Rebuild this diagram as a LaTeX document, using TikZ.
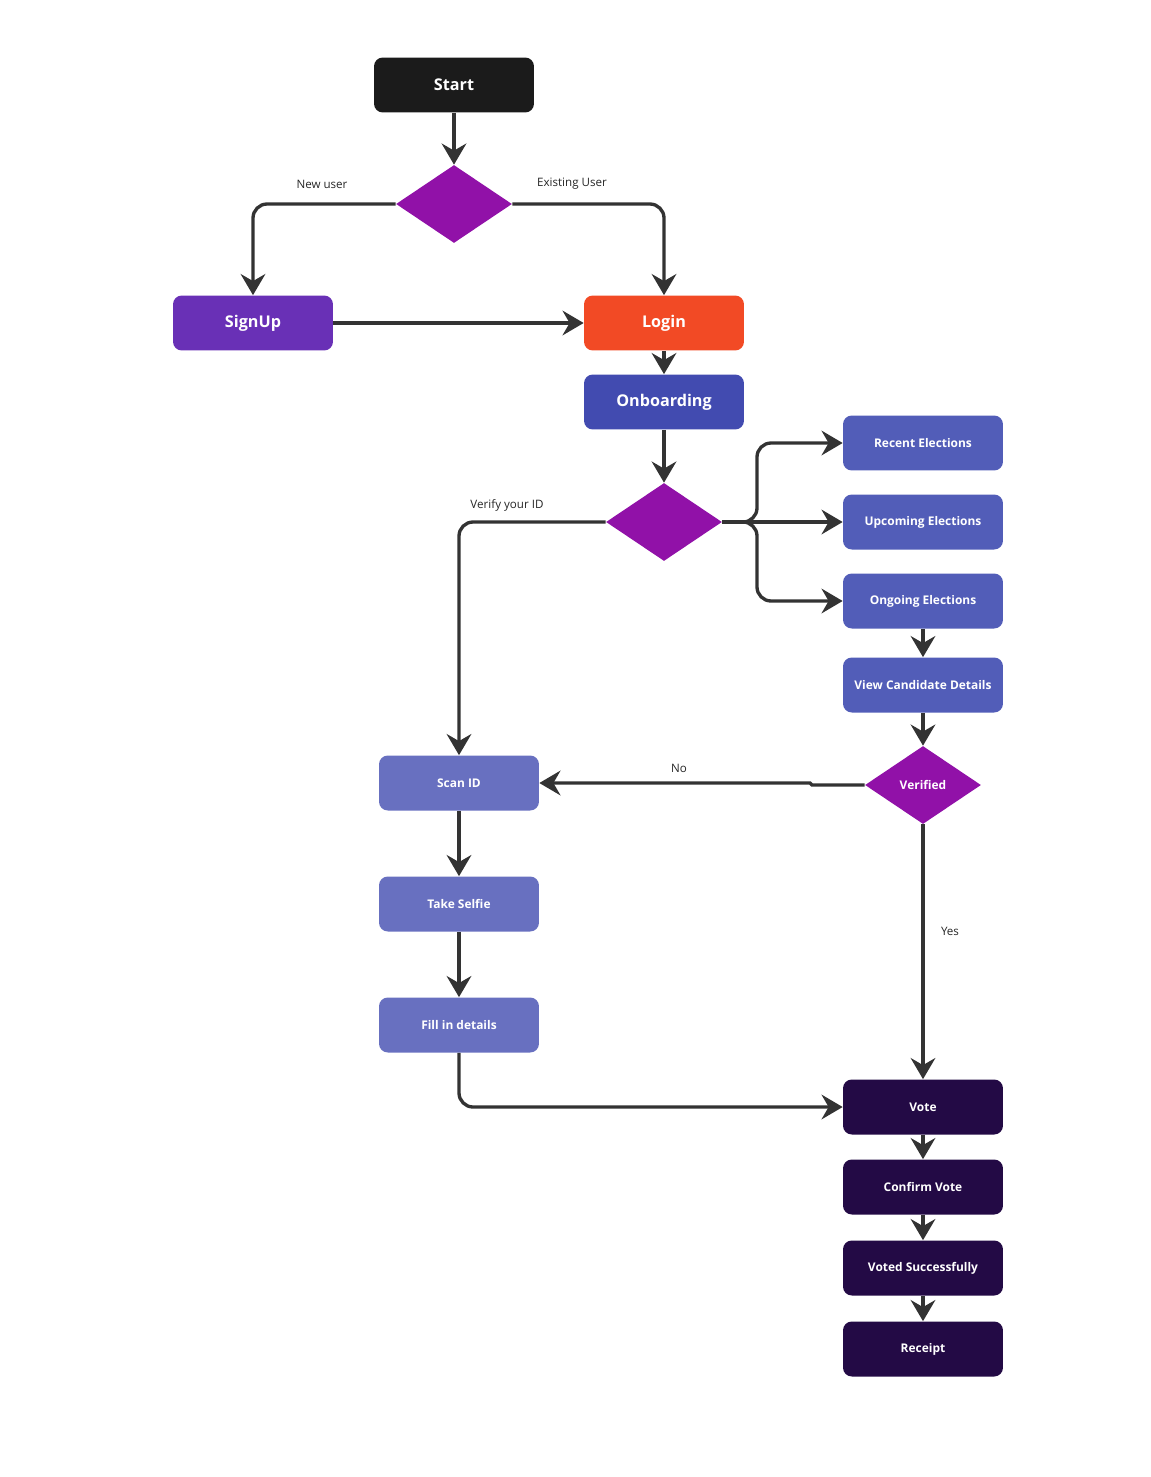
\documentclass[tikz,border=0pt]{standalone}
\usepackage{fontspec}
\setmainfont{Open Sans}
\usetikzlibrary{shapes.geometric,arrows.meta}
\definecolor{cStart}{HTML}{1B1B1B}
\definecolor{cDia}{HTML}{9111A8}
\definecolor{cSign}{HTML}{6930B6}
\definecolor{cLogin}{HTML}{F24A25}
\definecolor{cOnb}{HTML}{424BB0}
\definecolor{cElec}{HTML}{525DB8}
\definecolor{cScan}{HTML}{6870C0}
\definecolor{cVote}{HTML}{230A45}
\definecolor{cLine}{HTML}{333333}
\tikzset{
  box/.style={rectangle, rounded corners=5pt, minimum width=3.2cm, minimum height=1.1cm, inner sep=0pt, text=white, font=\bfseries\fontsize{6.8}{8}\selectfont},
  bigbox/.style={box, font=\bfseries\fontsize{9.2}{11}\selectfont},
  dia/.style={diamond, fill=cDia, draw=none, minimum width=2.32cm, minimum height=1.56cm, inner sep=0pt, text=white, font=\bfseries\fontsize{6.8}{8}\selectfont},
  conn/.style={draw=cLine, line width=1.9pt, rounded corners=8pt, -{Stealth[length=12pt,width=14pt,inset=4pt]}},
  lbl/.style={font=\fontsize{6.6}{8}\selectfont, text=black!85}
}
\begin{document}
\begin{tikzpicture}[x=0.02cm,y=-0.02cm]
\useasboundingbox (0,0) rectangle (1151,1477);
% nodes
\node[bigbox, fill=cStart] (start) at (454,85) {Start};
\node[dia] (d1) at (454,204) {};
\node[bigbox, fill=cSign] (signup) at (253,323) {SignUp};
\node[bigbox, fill=cLogin] (login) at (664,323) {Login};
\node[bigbox, fill=cOnb] (onb) at (664,402) {Onboarding};
\node[dia] (d2) at (664,522) {};
\node[box, fill=cElec] (recent) at (923,443) {Recent Elections};
\node[box, fill=cElec] (upcoming) at (923,522) {Upcoming Elections};
\node[box, fill=cElec] (ongoing) at (923,601) {Ongoing Elections};
\node[box, fill=cElec] (view) at (923,685) {View Candidate Details};
\node[dia] (ver) at (923,785) {Verified};
\node[box, fill=cScan] (scan) at (459,783) {Scan ID};
\node[box, fill=cScan] (selfie) at (459,904) {Take Selfie};
\node[box, fill=cScan] (fill) at (459,1025) {Fill in details};
\node[box, fill=cVote] (vote) at (923,1107) {Vote};
\node[box, fill=cVote] (confirm) at (923,1187) {Confirm Vote};
\node[box, fill=cVote] (voted) at (923,1268) {Voted Successfully};
\node[box, fill=cVote] (receipt) at (923,1349) {Receipt};
% labels
\node[lbl] (lnew) at (322,184) {New user};
\node[lbl] (lexist) at (572,184) {Existing User};
\node[lbl] (lverify) at (507,505) {Verify your ID};
\node[lbl] (lno) at (679,768) {No};
\node[lbl] (lyes) at (950,931) {Yes};
% connectors
\draw[conn] (start) -- (d1);
\draw[conn] (d1.west) -| (signup.north);
\draw[conn] (d1.east) -| (login.north);
\draw[conn] (signup) -- (login);
\draw[conn] (login) -- (onb);
\draw[conn] (onb) -- (d2);
\draw[conn] (d2.west) -| (scan.north);
\coordinate (br) at (757,522);
\draw[conn] (d2.east) -- (br) |- (recent.west);
\draw[conn] (d2.east) -- (upcoming.west);
\draw[conn] (d2.east) -- (br) |- (ongoing.west);
\draw[conn] (ongoing) -- (view);
\draw[conn] (view) -- (ver);
\coordinate (jog1) at (812,785);
\coordinate (jog2) at (810,783);
\draw[conn, rounded corners=0pt] (ver.west) -- (jog1) -- (jog2) -- (scan.east);
\draw[conn] (ver.south) -- (vote.north);
\draw[conn] (scan) -- (selfie);
\draw[conn] (selfie) -- (fill);
\draw[conn] (fill.south) |- (vote.west);
\draw[conn] (vote) -- (confirm);
\draw[conn] (confirm) -- (voted);
\draw[conn] (voted) -- (receipt);
\end{tikzpicture}
\end{document}
